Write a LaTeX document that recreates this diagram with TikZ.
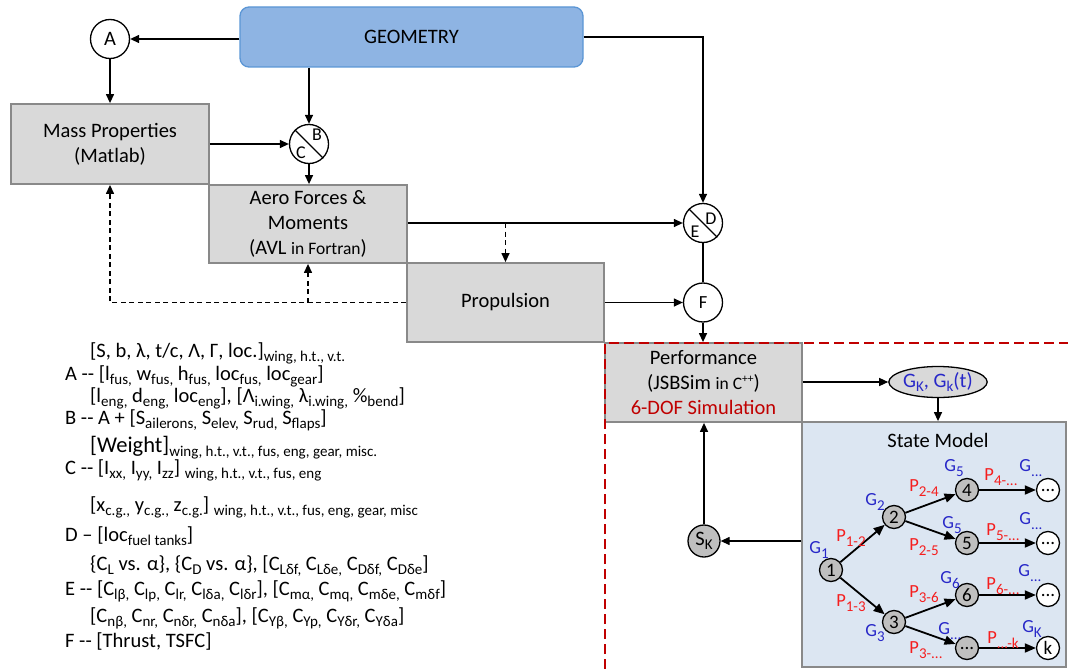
\documentclass[tikz,border=0pt]{standalone}
\usepackage{fontspec}
\setmainfont{Carlito}
\usetikzlibrary{shapes.geometric,arrows.meta,positioning,calc}

\newcommand{\sbs}[1]{\raisebox{-4.5pt}{\fontsize{15}{15}\selectfont #1}}
\newcommand{\sps}[1]{\raisebox{7pt}{\fontsize{11.5}{11.5}\selectfont #1}}
\newcommand{\tdots}{...}

\begin{document}
\begin{tikzpicture}[x=1pt, y=-1pt, font=\fontsize{20.5}{25}\selectfont,
    >={Triangle[length=9pt, width=8pt]},
    box/.style={draw=boxline, fill=boxgray, line width=1.8pt, align=center, inner sep=0pt},
    circ/.style={draw, circle, fill=white, line width=1.3pt, inner sep=0pt, minimum size=39pt},
    link/.style={line width=1.3pt, ->},
    dlink/.style={line width=1.3pt, ->, dash pattern=on 5pt off 3.5pt},
    letter/.style={inner sep=0pt, font=\fontsize{18}{18}\selectfont},
    tnode/.style={draw, circle, fill=nodegray, line width=1.3pt, inner sep=0pt, minimum size=23pt, font=\fontsize{19}{19}\selectfont},
    tend/.style={tnode, fill=white},
    tedge/.style={line width=1.8pt, -{Triangle[length=11pt, width=9pt]}},
    glab/.style={text=gblue, inner sep=0pt, font=\fontsize{18.5}{18.5}\selectfont},
    plab/.style={text=pred, inner sep=0pt, font=\fontsize{18.5}{18.5}\selectfont},
    legend/.style={anchor=base west, inner sep=0pt}]
    % Colori
    \definecolor{geomfill}{RGB}{142,180,227}
    \definecolor{geomline}{RGB}{91,150,213}
    \definecolor{boxgray}{RGB}{217,217,217}
    \definecolor{boxline}{RGB}{137,137,137}
    \definecolor{statefill}{RGB}{220,230,242}
    \definecolor{nodegray}{RGB}{191,191,191}
    \definecolor{gblue}{RGB}{40,40,200}
    \definecolor{pred}{RGB}{245,30,30}
    \definecolor{dred}{RGB}{192,0,0}

    \useasboundingbox (0,0) rectangle (1068,669);

    % Blocchi principali
    \node[draw=geomline, fill=geomfill, line width=1.3pt, rounded corners=9pt,
          minimum width=343pt, minimum height=60pt] (geom) at (411.5,37) {GEOMETRY};
    \node[box, minimum width=198pt, minimum height=80pt] (mass) at (110,144) {Mass Properties\\(Matlab)};
    \node[box, minimum width=198pt, minimum height=78pt] (aero) at (308,224)
        {Aero Forces \&\\Moments\\(AVL {\fontsize{17.5}{17.5}\selectfont in Fortran})};
    \node[box, minimum width=197pt, minimum height=79pt] (prop) at (505.5,302.5) {Propulsion};
    \node[box, minimum width=197pt, minimum height=79pt] (perf) at (703.5,382.5)
        {Performance\\(JSBSim {\fontsize{17.5}{17.5}\selectfont in C\sps{++}})\\\textcolor{dred}{6-DOF Simulation}};
    \node[draw=boxline, fill=statefill, line width=1.8pt, minimum width=264pt, minimum height=245pt] (state) at (934,544.5) {};
    \node (stitle) at (938,440) {State Model};

    % Nodi di scambio dati
    \node[circ] (A) at (110,39) {A};
    \node[circ] (bc) at (309,144) {};
    \draw[line width=1.3pt] (bc.north west) -- (bc.south east);
    \node[letter] (lb) at (317,135) {B};
    \node[letter] (lc) at (301,153) {C};
    \node[circ] (de) at (703,223) {};
    \draw[line width=1.3pt] (de.north west) -- (de.south east);
    \node[letter] (ld) at (711,219) {D};
    \node[letter] (le) at (695,232) {E};
    \node[circ] (F) at (703,302.5) {\fontsize{18.5}{18.5}\selectfont F};
    \node[draw, ellipse, fill=boxgray, line width=1.3pt, minimum width=85pt, minimum height=31pt,
          inner sep=0pt, text=gblue] (gk) at (938,382) {G\sbs{K}, G\sbs{k}(t)};
    \node[circ, fill=nodegray, minimum size=32pt] (sk) at (704,541) {S\sbs{K}};

    % Collegamenti
    \draw[link] (geom.west |- A) -- (A);
    \draw[link] (A) -- (mass);
    \draw[link] (geom.south -| bc) -- (bc);
    \draw[link] (mass.east) -- (bc);
    \draw[link] (bc.south) -- (bc.south |- aero.north);
    \draw[link] (aero.east |- de) -- (de);
    \draw[link] (geom.east) -| (de);
    \draw[dlink] (prop.north |- de) -- (prop.north);
    \draw[dlink] (prop.west) -| (mass.south);
    \draw[dlink] (aero.south |- prop.west) -- (aero.south);
    \draw[link] (prop.east) -- (F);
    \draw[line width=1.3pt] (de) -- (F);
    \draw[link] (F.south) -- (F.south |- perf.north);
    \draw[link] (perf.east |- gk) -- (gk);
    \draw[link] (gk) -- (gk |- state.north);
    \draw[link] (state.west |- sk) -- (sk);
    \draw[link] (sk) -- (sk |- perf.south);

    % Confine tratteggiato rosso
    \draw[dred, line width=2.8pt, dash pattern=on 10pt off 5pt] (605,669) -- (605,343) -- (1068,343);

    % Albero degli stati
    \foreach \n/\x/\y/\t in {t1/831/570/1, t2/894/517/2, t3/894/622/3, t4/967/490/4,
                             t5/967/543/5, t6/967/595/6, t7/967/648/\tdots}
        \node[tnode] (\n) at (\x,\y) {\t};
    \foreach \n/\y/\t in {e1/490/\tdots, e2/543/\tdots, e3/595/\tdots, e4/648/k}
        \node[tend] (\n) at (1048,\y) {\t};
    \foreach \a/\b in {t1/t2, t1/t3, t2/t4, t2/t5, t3/t6, t3/t7, t4/e1, t5/e2, t6/e3, t7/e4}
        \draw[tedge] (\a) -- (\b);

    % Etichette G
    \node[glab] (g1) at (819,550) {G\sbs{1}};
    \node[glab] (g2) at (875,502) {G\sbs{2}};
    \node[glab] (g3) at (875,633) {G\sbs{3}};
    \node[glab] (g4) at (954,468) {G\sbs{5}};
    \node[glab] (g5) at (952,525) {G\sbs{5}};
    \node[glab] (g6) at (950,580) {G\sbs{6}};
    \node[glab] (g7) at (950,631) {G\sbs{\tdots}};
    \node[glab] (ge1) at (1031,468) {G\sbs{\tdots}};
    \node[glab] (ge2) at (1031,521) {G\sbs{\tdots}};
    \node[glab] (ge3) at (1030,573) {G\sbs{\tdots}};
    \node[glab] (ge4) at (1032,629) {G\sbs{K}};

    % Etichette P
    \node[plab] (p12) at (851,538) {P\sbs{1-2}};
    \node[plab] (p13) at (851,603) {P\sbs{1-3}};
    \node[plab] (p24) at (924,488) {P\sbs{2-4}};
    \node[plab] (p25) at (924,547) {P\sbs{2-5}};
    \node[plab] (p36) at (924,594) {P\sbs{3-6}};
    \node[plab] (p37) at (926,650) {P\sbs{3-\tdots}};
    \node[plab] (p4) at (1001,477) {P\sbs{4-\tdots}};
    \node[plab] (p5) at (1003,532) {P\sbs{5-\tdots}};
    \node[plab] (p6) at (1003,586) {P\sbs{6-\tdots}};
    \node[plab] (pk) at (1003,640) {P\sbs{\tdots-k}};

    % Legenda
    \node[legend] (leg1) at (90,357) {[S, b, λ, t/c, Λ, Γ, loc.]\sbs{wing, h.t., v.t.}};
    \node[legend] (leg2) at (65,380) {A -{}- [l\sbs{fus,} w\sbs{fus,} h\sbs{fus,} loc\sbs{fus,} loc\sbs{gear}]};
    \node[legend] (leg3) at (90,402) {[l\sbs{eng,} d\sbs{eng,} loc\sbs{eng}], [Λ\sbs{i.wing,} λ\sbs{i.wing,} \%\sbs{bend}]};
    \node[legend] (leg4) at (65,424) {B -{}- A + [S\sbs{ailerons,} S\sbs{elev,} S\sbs{rud,} S\sbs{flaps}]};
    \node[legend] (leg5) at (90,452) {{\fontsize{22.5}{25}\selectfont [Weight]}\sbs{wing, h.t., v.t., fus, eng, gear, misc.}};
    \node[legend] (leg6) at (65,474) {C -{}- [I\sbs{xx,} I\sbs{yy,} I\sbs{zz}] \sbs{wing, h.t., v.t., fus, eng}};
    \node[legend] (leg7) at (90,511) {[x\sbs{c.g.,} y\sbs{c.g.,} z\sbs{c.g.}] \sbs{wing, h.t., v.t., fus, eng, gear, misc}};
    \node[legend] (leg8) at (65,541) {D – [loc\sbs{fuel tanks}]};
    \node[legend] (leg9) at (90,570) {\{C\sbs{L} vs. α\}, \{C\sbs{D} vs. α\}, [C\sbs{Lδf,} C\sbs{Lδe,} C\sbs{Dδf,} C\sbs{Dδe}]};
    \node[legend] (leg10) at (65,595) {E -{}- [C\sbs{lβ,} C\sbs{lp,} C\sbs{lr,} C\sbs{lδa,} C\sbs{lδr}], [C\sbs{mα,} C\sbs{mq,} C\sbs{mδe,} C\sbs{mδf}]};
    \node[legend] (leg11) at (90,622) {[C\sbs{nβ,} C\sbs{nr,} C\sbs{nδr,} C\sbs{nδa}], [C\sbs{Yβ,} C\sbs{Yp,} C\sbs{Yδr,} C\sbs{Yδa}]};
    \node[legend] (leg12) at (65,647) {F -{}- [Thrust, TSFC]};
\end{tikzpicture}
\end{document}
